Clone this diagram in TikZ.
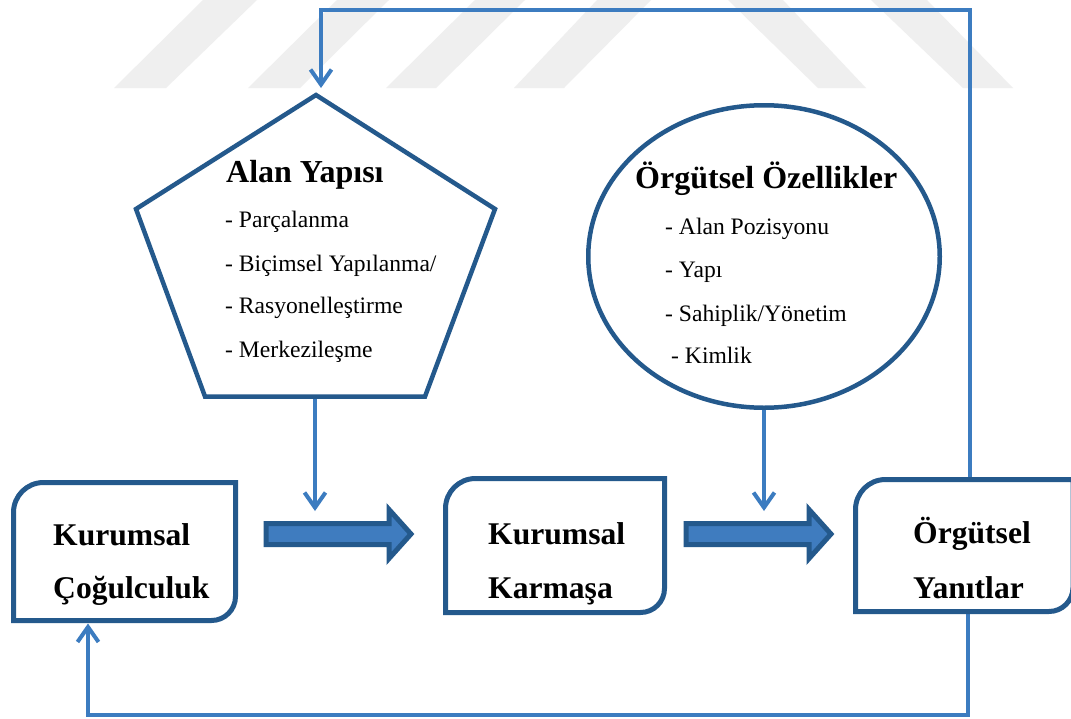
\documentclass[tikz,border=0pt]{standalone}
\usepackage{fontspec}
\setmainfont{Liberation Serif}
\usetikzlibrary{arrows.meta,calc,shapes.geometric}

\definecolor{frameblue}{RGB}{36,89,140}
\definecolor{linkblue}{RGB}{60,124,192}
\definecolor{fillblue}{RGB}{63,124,191}
\definecolor{markgray}{RGB}{239,239,239}

\tikzset{
  boxline/.style={draw=frameblue,line width=5pt},
  boxnode/.style={rectangle,inner sep=0pt,outer sep=0pt},
  conn/.style={draw=linkblue,line width=4pt},
  tip/.style={-{Straight Barb[length=15pt,width=21pt]}},
  head/.style={anchor=base west,inner sep=0pt,font=\fontsize{32}{38}\selectfont\bfseries},
  boxtext/.style={anchor=base west,inner sep=0pt,font=\fontsize{31.6}{38}\selectfont\bfseries},
  item/.style={anchor=base west,inner sep=0pt,font=\fontsize{23.6}{28}\selectfont},
  fatarrow/.style={draw=frameblue,fill=fillblue,line width=5pt},
  band/.style={fill=markgray},
}

% box with rounded top-left and bottom-right corners
\newcommand\cornerbox[1]{%
  \draw[boxline] (#1.south west) -- ($(#1.north west)+(0,30)$)
    .. controls ($(#1.north west)+(0,13.4)$) and ($(#1.north west)+(13.4,0)$) .. ($(#1.north west)+(30,0)$)
    -- (#1.north east) -- ($(#1.south east)+(0,-24)$)
    .. controls ($(#1.south east)+(0,-10.75)$) and ($(#1.south east)+(-10.75,0)$) .. ($(#1.south east)+(-24,0)$)
    -- cycle;}

% thick block arrow starting at the given left-centre point
\newcommand\blockarrow[1]{%
  \draw[fatarrow] ($(#1)+(0,-10.5)$) -- ($(#1)+(123,-10.5)$) -- ($(#1)+(123,-24.5)$)
    -- ($(#1)+(145,0)$) -- ($(#1)+(123,24.5)$) -- ($(#1)+(123,10.5)$) -- ($(#1)+(0,10.5)$) -- cycle;}

\begin{document}
\begin{tikzpicture}[x=1pt,y=-1pt]
  \useasboundingbox (0,0) rectangle (1071,718);
  \fill[white] (0,0) rectangle (1071,718);

  % faint background emblem
  \fill[band] (114,88) -- (166,88) -- (257,0) -- (203,0) -- cycle;
  \fill[band] (248,88) -- (300,88) -- (389,0) -- (337,0) -- cycle;
  \fill[band] (386,88) -- (436,88) -- (525,0) -- (475,0) -- cycle;
  \fill[band] (514,88) -- (564,88) -- (651,0) -- (597,0) -- cycle;
  \fill[band] (818,88) -- (866,88) -- (783,0) -- (728,0) -- cycle;
  \fill[band] (963,88) -- (1013,88) -- (927,0) -- (871,0) -- cycle;

  % boxes
  \node[boxnode,minimum width=222pt,minimum height=138pt] (cog) at (124.5,551.5) {};
  \node[boxnode,minimum width=219pt,minimum height=134pt] (kar) at (555,545.5) {};
  \node[boxnode,minimum width=217.5pt,minimum height=132pt] (yan) at (964.25,545.5) {};

  % pentagon corners
  \coordinate (pTop) at (316,95);
  \coordinate (pLeft) at (136,209);
  \coordinate (pRight) at (495,209);
  \coordinate (pBL) at (205,396.5);
  \coordinate (pBR) at (425,396.5);
  \coordinate (pBot) at ($(pBL)!0.5!(pBR)$);

  % circle
  \node[ellipse,draw=frameblue,line width=4.5pt,minimum width=351.5pt,minimum height=302.5pt,inner sep=0pt] (oz) at (764,256.5) {};

  % connector end points
  \coordinate (pTopIn) at (321,88);
  \coordinate (loopNE) at (970,10);
  \coordinate (loopS) at (0,715);
  \coordinate (yanUp) at ($(yan.north west)+(114.5,0)$);
  \coordinate (yanDown) at ($(yan.south west)+(112.5,0)$);
  \coordinate (cogIn) at ($(cog.south west)+(74.5,3)$);
  \coordinate (drop1) at (315,511);
  \coordinate (drop2) at (764,511);

  % connectors
  \draw[conn,tip] (yanUp) -- (loopNE) -| (pTopIn);
  \draw[conn,tip] (yanDown) -- (yanDown |- loopS) -| (cogIn);
  \draw[conn,tip] (pBot) -- (drop1);
  \draw[conn,tip] (oz.south) -- (drop2);

  % outlines
  \draw[boxline,line width=4.5pt] (pTop) -- (pRight) -- (pBR) -- (pBL) -- (pLeft) -- cycle;
  \cornerbox{cog}
  \cornerbox{kar}
  \cornerbox{yan}

  % block arrows
  \coordinate (fa1) at (266,534);
  \coordinate (fa2) at (686,534);
  \blockarrow{fa1}
  \blockarrow{fa2}

  % pentagon text
  \node[head] (alanT) at (226,182) {Alan Yapısı};
  \node[item] (alan1) at (225,227) {- Parçalanma};
  \node[item] (alan2) at (225,271) {- Biçimsel Yapılanma/};
  \node[item] (alan3) at (225,313) {- Rasyonelleştirme};
  \node[item] (alan4) at (225,357) {- Merkezileşme};

  % circle text
  \node[head] (ozT) at (635,188) {Örgütsel Özellikler};
  \node[item] (oz1) at (665,234) {- Alan Pozisyonu};
  \node[item] (oz2) at (665,277) {- Yapı};
  \node[item] (oz3) at (665,321) {- Sahiplik/Yönetim};
  \node[item] (oz4) at (671,363) {- Kimlik};

  % box text
  \node[boxtext] (cogA) at (53,545) {Kurumsal};
  \node[boxtext] (cogB) at (53,598) {Çoğulculuk};
  \node[boxtext] (karA) at (488,544) {Kurumsal};
  \node[boxtext] (karB) at (488,598) {Karmaşa};
  \node[boxtext] (yanA) at (913,543) {Örgütsel};
  \node[boxtext] (yanB) at (913,598) {Yanıtlar};
\end{tikzpicture}
\end{document}
